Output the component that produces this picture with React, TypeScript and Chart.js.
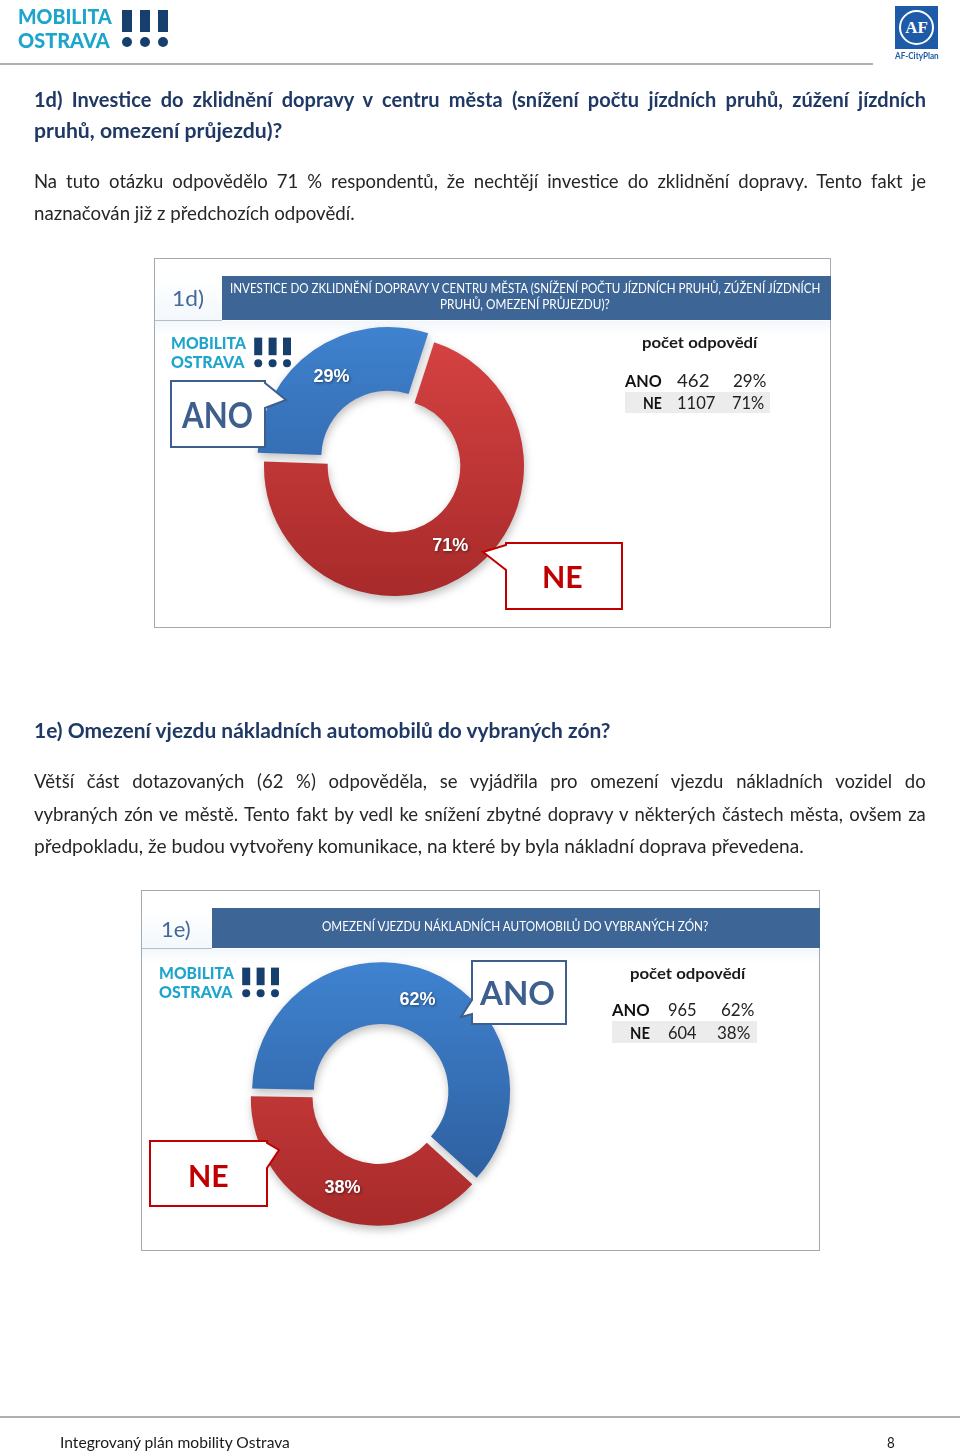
import React, { useEffect, useLayoutEffect, useRef } from 'react';
import { Chart, registerables } from 'chart.js';

Chart.register(...registerables);

// ---- data ----
const answerLabels = ['ANO', 'NE'];
const answers1d = [462, 1107];
const shares1d = [29, 71];
const answers1e = [965, 604];
const shares1e = [62, 38];

const BODY = 'Lato, "Noto Sans", sans-serif';
const NAVY = '#1F3864';
const BAR = '#3D6595';
const CALLOUT_BLUE = '#3E5F8E';
const CALLOUT_RED = '#C00000';

type LineProps = {
  x: number;
  base: number;
  w: number;
  text: string;
  size: number;
  weight?: number;
  color?: string;
  justify?: boolean;
  family?: string;
};

function Line({ x, base, w, text, size, weight = 400, color = '#262626', justify = false, family = BODY }: LineProps) {
  const ref = useRef<HTMLSpanElement>(null);
  const measure = () => {
    const el = ref.current;
    if (!el) return;
    el.style.transform = 'none';
    el.style.wordSpacing = '0px';
    const nat = el.offsetWidth;
    const spaces = (text.match(/ /g) || []).length;
    if (justify && nat < w && spaces > 0) {
      el.style.wordSpacing = `${(w - nat) / spaces}px`;
    } else if (nat > 0) {
      el.style.transform = `scaleX(${w / nat})`;
    }
  };
  useLayoutEffect(measure, [text, w, size, justify]);
  useEffect(() => {
    const f: any = (document as any).fonts;
    if (f && f.ready) f.ready.then(measure);
  }, []);
  return (
    <span
      ref={ref}
      style={{
        position: 'absolute',
        left: x,
        top: base - 0.887 * size,
        fontFamily: family,
        fontSize: size,
        lineHeight: `${size}px`,
        fontWeight: weight,
        color,
        whiteSpace: 'nowrap',
        transformOrigin: '0 0',
        zIndex: 5,
      }}
    >
      {text}
    </span>
  );
}

function Logo({ x, y, s }: { x: number; y: number; s: number }) {
  const bars = [104, 122, 140];
  return (
    <div style={{ position: 'absolute', left: x, top: y, width: 160, height: 50, transform: `scale(${s})`, transformOrigin: '0 0', zIndex: 4 }}>
      <Line x={0} base={16} w={94} text="MOBILITA" size={21} weight={900} color="#1EA5CC" />
      <Line x={0} base={40} w={92} text="OSTRAVA" size={21} weight={900} color="#1EA5CC" />
      {bars.map((bx) => (
        <div key={'b' + bx} style={{ position: 'absolute', left: bx, top: 2, width: 10, height: 22, background: '#173F6E' }} />
      ))}
      {bars.map((bx) => (
        <div key={'d' + bx} style={{ position: 'absolute', left: bx, top: 29, width: 10, height: 10, borderRadius: '50%', background: '#173F6E' }} />
      ))}
    </div>
  );
}

const shadowPlugin = {
  id: 'ringShadow',
  beforeDatasetDraw(chart: any) {
    const c = chart.ctx;
    c.save();
    c.shadowColor = 'rgba(0,0,0,0.25)';
    c.shadowBlur = 8;
    c.shadowOffsetX = 1;
    c.shadowOffsetY = 4;
  },
  afterDatasetDraw(chart: any) {
    chart.ctx.restore();
  },
};

const makeLabelPlugin = (shares: number[]) => ({
  id: 'sliceLabels',
  afterDatasetsDraw(chart: any) {
    const ctx = chart.ctx;
    const meta = chart.getDatasetMeta(0);
    ctx.save();
    ctx.font = 'bold 18px "Liberation Sans", Arial, sans-serif';
    ctx.fillStyle = '#ffffff';
    ctx.textAlign = 'center';
    ctx.textBaseline = 'middle';
    ctx.shadowColor = 'rgba(0,0,0,0.45)';
    ctx.shadowBlur = 3;
    ctx.shadowOffsetX = 1;
    ctx.shadowOffsetY = 1;
    meta.data.forEach((arc: any, i: number) => {
      const p = arc.getProps(['x', 'y', 'startAngle', 'endAngle', 'innerRadius', 'outerRadius'], true);
      const mid = (p.startAngle + p.endAngle) / 2;
      const off = (arc.options.offset || 0) / 4;
      const circ = p.endAngle - p.startAngle;
      const shift = off * (2 - Math.sin(Math.min(Math.PI, circ)));
      const r = p.innerRadius + (p.outerRadius - p.innerRadius) * 0.5 + shift;
      ctx.fillText(`${shares[i]}%`, p.x + Math.cos(mid) * r, p.y + Math.sin(mid) * r);
    });
    ctx.restore();
  },
});

type DonutProps = {
  values: number[];
  shares: number[];
  rotation: number;
  offsets: number[];
  radius: number;
  cx: number;
  cy: number;
};

function Donut({ values, shares, rotation, offsets, radius, cx, cy }: DonutProps) {
  const ref = useRef<HTMLCanvasElement>(null);
  const S = 340;
  useEffect(() => {
    const canvas = ref.current;
    if (!canvas) return;
    const palette = [
      ['#3F82CF', '#2B5A98'],
      ['#D64242', '#A82A2A'],
    ];
    const chart = new Chart(canvas, {
      type: 'doughnut',
      data: {
        labels: answerLabels,
        datasets: [
          {
            data: values,
            borderWidth: 0,
            offset: offsets,
            hoverOffset: 0,
            backgroundColor: (c: any) => {
              const i = c.dataIndex ?? 0;
              const g = c.chart.ctx.createLinearGradient(0, S / 2 - radius, 0, S / 2 + radius);
              g.addColorStop(0, palette[i][0]);
              g.addColorStop(1, palette[i][1]);
              return g;
            },
          } as any,
        ],
      },
      options: {
        responsive: false,
        animation: false,
        rotation,
        radius,
        cutout: '51%',
        events: [],
        layout: { padding: 0 },
        plugins: { legend: { display: false }, tooltip: { enabled: false } },
      } as any,
      plugins: [shadowPlugin, makeLabelPlugin(shares)],
    });
    return () => chart.destroy();
  }, []);
  return (
    <canvas
      ref={ref}
      width={S}
      height={S}
      style={{ position: 'absolute', left: cx - S / 2, top: cy - S / 2, width: S, height: S, zIndex: 2 }}
    />
  );
}

function calloutPath(x1: number, y1: number, x2: number, y2: number, side: 'left' | 'right', b1: number, b2: number, tx: number, ty: number) {
  if (side === 'right') {
    return `M${x1} ${y1} L${x2} ${y1} L${x2} ${b1} L${tx} ${ty} L${x2} ${b2} L${x2} ${y2} L${x1} ${y2} Z`;
  }
  return `M${x1} ${y1} L${x2} ${y1} L${x2} ${y2} L${x1} ${y2} L${x1} ${b2} L${tx} ${ty} L${x1} ${b1} Z`;
}

function ChartFrame({ x1, y1, x2, y2, barTop, barBottom, labelRight }: { x1: number; y1: number; x2: number; y2: number; barTop: number; barBottom: number; labelRight: number }) {
  return (
    <>
      <div style={{ position: 'absolute', left: x1, top: y1, width: x2 - x1, height: y2 - y1, border: '1px solid #A3A9B0', boxSizing: 'border-box', background: '#fff', zIndex: 1 }} />
      <div style={{ position: 'absolute', left: x1 + 1, top: barTop, width: x2 - x1 - 2, height: barBottom - barTop, background: 'linear-gradient(#ffffff, #f3f8fc)', zIndex: 1 }} />
      <div style={{ position: 'absolute', left: labelRight, top: barTop, width: x2 - labelRight, height: barBottom - barTop, background: BAR, zIndex: 1 }} />
      <div style={{ position: 'absolute', left: x1 + 1, top: barBottom, width: labelRight - x1 - 1, height: 1, background: '#B8BEC6', zIndex: 1 }} />
      <div style={{ position: 'absolute', left: x1 + 1, top: barBottom + 1, width: x2 - x1 - 2, height: 14, background: 'linear-gradient(#f2f7fc, #ffffff)', zIndex: 1 }} />
    </>
  );
}

export default function App() {
  return (
    <div style={{ position: 'absolute', left: 0, top: 0, width: 960, height: 1454, background: '#fff', overflow: 'hidden', fontFamily: BODY }}>
      {/* header */}
      <Logo x={18} y={8} s={1} />
      <div style={{ position: 'absolute', left: 895, top: 6, width: 43, height: 43, background: '#1D5AA7' }}>
        <div style={{ position: 'absolute', left: 4, top: 4, width: 31, height: 31, border: '2px solid #fff', borderRadius: '50%' }} />
        <span style={{ position: 'absolute', left: 0, top: 12, width: 43, textAlign: 'center', color: '#fff', fontFamily: '"Liberation Serif", serif', fontWeight: 700, fontSize: 17, lineHeight: '19px' }}>AF</span>
      </div>
      <Line x={895} base={59} w={44} text="AF-CityPlan" size={10} weight={700} color="#1D5AA7" />
      <div style={{ position: 'absolute', left: 0, top: 63, width: 873, height: 2, background: '#B0B0B0' }} />

      {/* section 1d text */}
      <Line x={34} base={107} w={892} justify weight={700} color={NAVY} size={20}
        text="1d) Investice do zklidnění dopravy v centru města (snížení počtu jízdních pruhů, zúžení jízdních" />
      <Line x={34} base={138} w={248} weight={700} color={NAVY} size={20} text="pruhů, omezení průjezdu)?" />
      <Line x={34} base={188} w={892} justify size={18.5}
        text="Na tuto otázku odpovědělo 71 % respondentů, že nechtějí investice do zklidnění dopravy. Tento fakt je" />
      <Line x={34} base={220} w={321} size={18.5} text="naznačován již z předchozích odpovědí." />

      {/* chart 1d */}
      <ChartFrame x1={154} y1={258} x2={831} y2={628} barTop={276} barBottom={320} labelRight={222} />
      <Line x={172} base={307} w={32} text="1d)" size={22} color="#44689A" />
      <Line x={230} base={294} w={590} size={13} color="#ffffff"
        text="INVESTICE DO ZKLIDNĚNÍ DOPRAVY V CENTRU MĚSTA (SNÍŽENÍ POČTU JÍZDNÍCH PRUHŮ, ZÚŽENÍ JÍZDNÍCH" />
      <Line x={440} base={310} w={170} size={13} color="#ffffff" text="PRUHŮ, OMEZENÍ PRŮJEZDU)?" />
      <Logo x={171} y={336} s={0.8} />
      <Donut values={answers1d} shares={shares1d} rotation={272} offsets={[42, 0]} radius={130} cx={394} cy={466} />
      <Line x={642} base={348} w={115} text="počet odpovědí" size={16} weight={700} color="#1a1a1a" />
      <div style={{ position: 'absolute', left: 625, top: 392, width: 145, height: 21, background: '#ECECEC', zIndex: 3 }} />
      <Line x={625} base={387} w={37} text={answerLabels[0]} size={17} weight={700} color="#111" />
      <Line x={677} base={387} w={33} text={String(answers1d[0])} size={17} color="#222" />
      <Line x={733} base={387} w={33} text={`${shares1d[0]}%`} size={17} color="#222" />
      <Line x={643} base={409} w={19} text={answerLabels[1]} size={17} weight={700} color="#111" />
      <Line x={677} base={409} w={38} text={String(answers1d[1])} size={17} color="#222" />
      <Line x={732} base={409} w={32} text={`${shares1d[1]}%`} size={17} color="#222" />

      {/* section 1e text */}
      <Line x={34} base={738} w={576} weight={700} color={NAVY} size={20} text="1e) Omezení vjezdu nákladních automobilů do vybraných zón?" />
      <Line x={34} base={788} w={892} justify size={18.5}
        text="Větší část dotazovaných (62 %) odpověděla, se vyjádřila pro omezení vjezdu nákladních vozidel do" />
      <Line x={34} base={821} w={892} justify size={18.5}
        text="vybraných zón ve městě. Tento fakt by vedl ke snížení zbytné dopravy v některých částech města, ovšem za" />
      <Line x={34} base={853} w={770} size={18.5}
        text="předpokladu, že budou vytvořeny komunikace, na které by byla nákladní doprava převedena." />

      {/* chart 1e */}
      <ChartFrame x1={141} y1={890} x2={820} y2={1251} barTop={908} barBottom={948} labelRight={212} />
      <Line x={161} base={938} w={30} text="1e)" size={22} color="#44689A" />
      <Line x={322} base={932} w={386} size={13} color="#ffffff" text="OMEZENÍ VJEZDU NÁKLADNÍCH AUTOMOBILŮ DO VYBRANÝCH ZÓN?" />
      <Logo x={159} y={966} s={0.8} />
      <Donut values={answers1e} shares={shares1e} rotation={271} offsets={[12, 18]} radius={126} cx={380} cy={1094} />
      <Line x={630} base={979} w={115} text="počet odpovědí" size={16} weight={700} color="#1a1a1a" />
      <div style={{ position: 'absolute', left: 612, top: 1021, width: 145, height: 22, background: '#ECECEC', zIndex: 3 }} />
      <Line x={612} base={1016} w={38} text={answerLabels[0]} size={17} weight={700} color="#111" />
      <Line x={668} base={1016} w={29} text={String(answers1e[0])} size={17} color="#222" />
      <Line x={721} base={1016} w={33} text={`${shares1e[0]}%`} size={17} color="#222" />
      <Line x={630} base={1039} w={20} text={answerLabels[1]} size={17} weight={700} color="#111" />
      <Line x={668} base={1039} w={29} text={String(answers1e[1])} size={17} color="#222" />
      <Line x={717} base={1039} w={33} text={`${shares1e[1]}%`} size={17} color="#222" />

      {/* callouts */}
      <svg width={960} height={1454} style={{ position: 'absolute', left: 0, top: 0, zIndex: 3, pointerEvents: 'none' }}>
        <path d={calloutPath(171, 381, 265, 447, 'right', 383, 408, 286, 400)} fill="#fff" stroke={CALLOUT_BLUE} strokeWidth={2} />
        <path d={calloutPath(506, 543, 622, 609, 'left', 545, 570, 483, 552)} fill="#fff" stroke={CALLOUT_RED} strokeWidth={2} />
        <path d={calloutPath(472, 961, 566, 1024, 'left', 1000, 1014, 461, 1017)} fill="#fff" stroke={CALLOUT_BLUE} strokeWidth={2} />
        <path d={calloutPath(150, 1141, 267, 1206, 'right', 1143, 1168, 279, 1150)} fill="#fff" stroke={CALLOUT_RED} strokeWidth={2} />
      </svg>
      <Line x={182} base={428} w={71} text="ANO" size={36} weight={700} color={CALLOUT_BLUE} />
      <Line x={542} base={588} w={41} text="NE" size={31} weight={700} color={CALLOUT_RED} />
      <Line x={480} base={1005} w={75} text="ANO" size={33} weight={700} color={CALLOUT_BLUE} />
      <Line x={188} base={1187} w={41} text="NE" size={31} weight={700} color={CALLOUT_RED} />

      {/* footer */}
      <div style={{ position: 'absolute', left: 0, top: 1416, width: 960, height: 2, background: '#B0B0B0' }} />
      <Line x={60} base={1448} w={230} size={15} text="Integrovaný plán mobility Ostrava" color="#1a1a1a" />
      <Line x={887} base={1448} w={8} size={15} text="8" color="#1a1a1a" />
    </div>
  );
}
